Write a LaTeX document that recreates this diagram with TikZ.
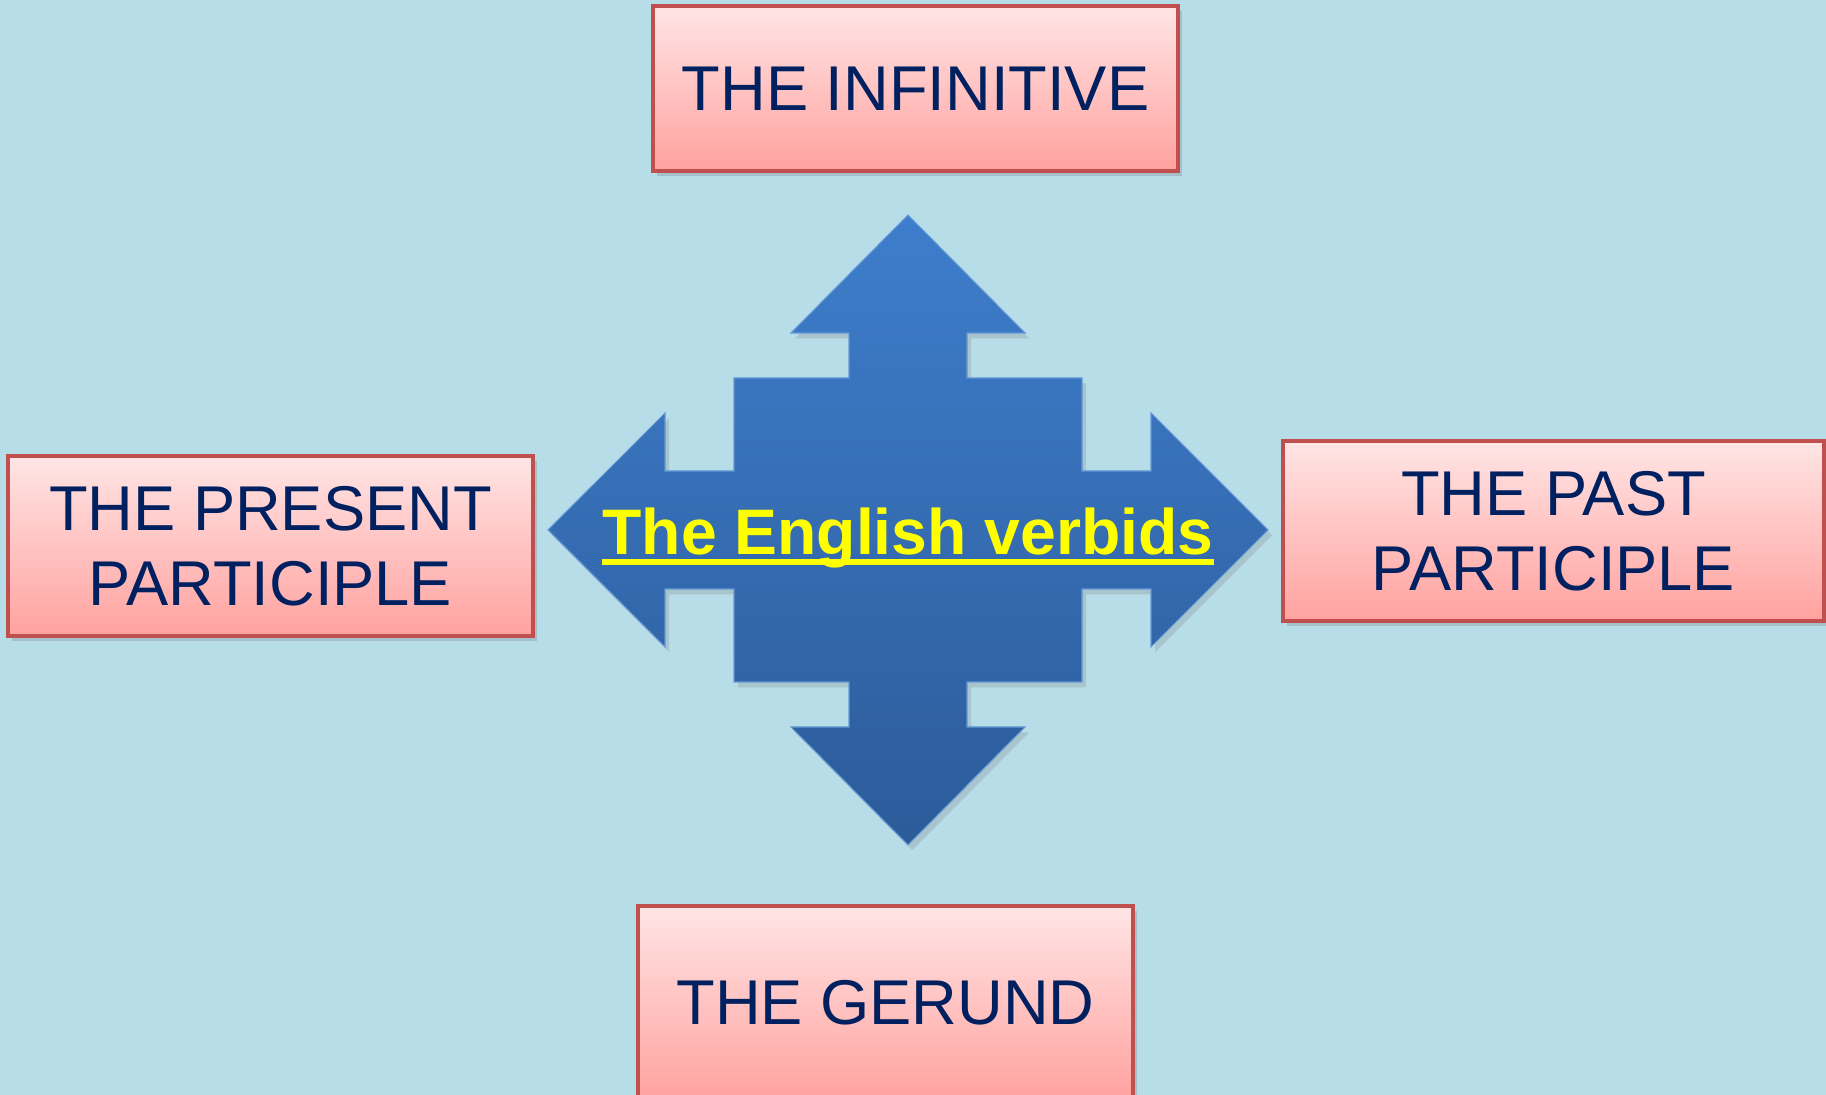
\documentclass[tikz,border=0pt]{standalone}
\usepackage{fontspec}
\setmainfont{Liberation Sans}
\usepackage{tikz}
\usetikzlibrary{positioning,shadows}
\definecolor{sky}{HTML}{B6DDE8}
\definecolor{navy}{HTML}{002060}
\definecolor{boxline}{HTML}{C0504D}
\definecolor{pinktop}{HTML}{FFE5E5}
\definecolor{pinkbot}{HTML}{FFA29F}
\definecolor{bluetop}{HTML}{3E7ECC}
\definecolor{bluebot}{HTML}{2C5B99}
\definecolor{gold}{HTML}{FFFF00}
\def\tipv{3.15}
\def\tiph{3.60}
\def\basev{1.97}
\def\baseh{2.43}
\def\head{1.17}
\def\shaft{0.59}
\def\sqw{1.74}
\def\sqh{1.52}
\tikzstyle{verbform} = [rectangle, draw=boxline, line width=0.9pt, top color=pinktop, bottom color=pinkbot, text=navy, font=\fontsize{18}{21.2}\selectfont, align=center, inner sep=0pt, drop shadow={opacity=0.3, shadow xshift=1.2pt, shadow yshift=-1.5pt}]
\tikzstyle{hubtext}  = [font=\bfseries\fontsize{18.3}{22}\selectfont, text=gold, inner sep=0pt]

\begin{document}
\begin{tikzpicture}
	\fill[sky] (0,0) rectangle (18.26,-10.95);
	\useasboundingbox (0,0) rectangle (18.26,-10.95);
	\coordinate (hub) at (9.08,-5.30);
	% four-way arrow
	\draw[shift={(hub)}, draw=bluetop!80!white, line width=0.3pt, top color=bluetop, bottom color=bluebot,
		drop shadow={opacity=0.25, shadow xshift=1.2pt, shadow yshift=-1.5pt}]
		(0,\tipv) -- (\head,\basev) -- (\shaft,\basev) -- (\shaft,\sqh) -- (\sqw,\sqh) -- (\sqw,\shaft)
		-- (\baseh,\shaft) -- (\baseh,\head) -- (\tiph,0) -- (\baseh,-\head) -- (\baseh,-\shaft)
		-- (\sqw,-\shaft) -- (\sqw,-\sqh) -- (\shaft,-\sqh) -- (\shaft,-\basev) -- (\head,-\basev)
		-- (0,-\tipv) -- (-\head,-\basev) -- (-\shaft,-\basev) -- (-\shaft,-\sqh) -- (-\sqw,-\sqh)
		-- (-\sqw,-\shaft) -- (-\baseh,-\shaft) -- (-\baseh,-\head) -- (-\tiph,0) -- (-\baseh,\head)
		-- (-\baseh,\shaft) -- (-\sqw,\shaft) -- (-\sqw,\sqh) -- (-\shaft,\sqh) -- (-\shaft,\basev)
		-- (-\head,\basev) -- cycle;
	\node[hubtext, yshift=-0.08cm] (verbids) at (hub) {The English verbids};
	\fill[gold] ([yshift=-1.2pt]verbids.base west) rectangle ([yshift=-2.9pt]verbids.base east);
	% the four forms
	\node[verbform, minimum width=5.25cm, minimum height=1.65cm] (infinitive) at (9.155,-0.885) {THE INFINITIVE};
	\node[verbform, minimum width=5.25cm, minimum height=1.80cm] (present) at (2.705,-5.46) {THE PRESENT\\PARTICIPLE};
	\node[verbform, minimum width=5.41cm, minimum height=1.80cm] (past) at (15.535,-5.31) {THE PAST\\PARTICIPLE};
	\node[verbform, minimum width=4.95cm, minimum height=1.94cm] (gerund) at (8.855,-10.03) {THE GERUND};
\end{tikzpicture}
\end{document}
